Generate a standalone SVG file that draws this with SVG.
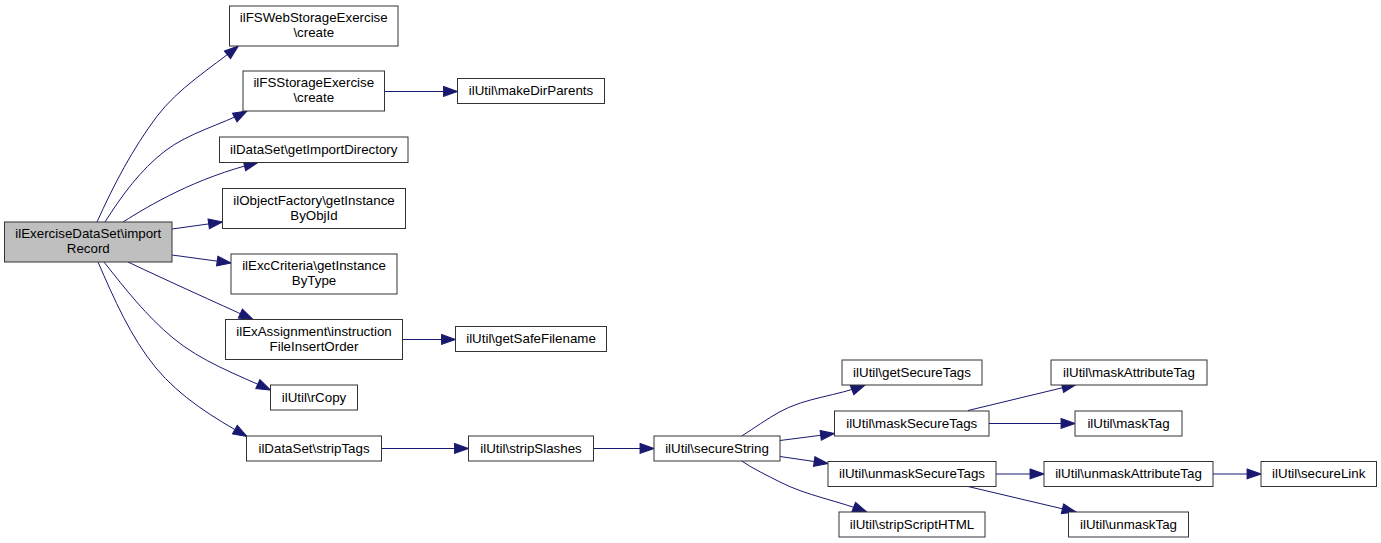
<svg xmlns="http://www.w3.org/2000/svg" width="1381" height="543" viewBox="0 0 1381 543">
<defs>
<style>
.node rect{fill:#ffffff;stroke:#333333;stroke-width:1}
.node.root rect{fill:#bfbfbf}
.node text{font-family:"Liberation Sans",Arial,Helvetica,sans-serif;font-size:13.33px;fill:#000000;text-anchor:middle}
.edges path{fill:none;stroke:#191970;stroke-width:1;marker-end:url(#arrow)}
</style>
<marker id="arrow" markerUnits="userSpaceOnUse" markerWidth="16" markerHeight="12" viewBox="-1 -1 15.3 11.3" refX="13.3" refY="4.67" orient="auto">
<path d="M0,0 L13.3,4.67 L0,9.33 z" fill="#191970" stroke="#191970" stroke-width="1"/>
</marker>
</defs>
<rect x="0" y="0" width="1381" height="543" fill="#ffffff"/>
<g class="edges" id="edges">
<path d="M97,222 C113.4,185.5 132.6,148.7 156.7,116.7 C178.4,87.9 210.2,68.7 238.3,46"/>
<path d="M105,222 C121.6,195.8 140.4,169.9 165,151 C188.8,132.7 220.5,125.1 247,111"/>
<path d="M123,222 C150,205 195,178 258,162.5"/>
<path d="M172,229 L222.5,222"/>
<path d="M172,255 L231,263"/>
<path d="M128,262 C170,282 215,302 253,319.5"/>
<path d="M104,262 C125,288.7 146.8,316.3 173,338 C201.5,361.6 236.5,374.3 270.5,390"/>
<path d="M98,262 C114,298.7 130.6,337.2 156,368 C180.2,397.3 214.1,418 247,436.5"/>
<path d="M384.5,91.5 L457.5,91.5"/>
<path d="M402.5,339.5 L455.5,339.5"/>
<path d="M381.5,448.5 L468.5,448.5"/>
<path d="M593.5,448.5 L654,448.5"/>
<path d="M741.7,436 C754.4,428 766.8,418.9 780,411.7 C806.3,397.3 837.1,396.1 865,385"/>
<path d="M780,440.5 L834.5,433.5"/>
<path d="M780,456.5 L828,463.5"/>
<path d="M741.7,461 C753.6,469.1 767.5,475.6 780,482 C806.7,495.7 838.8,500.9 866.7,512"/>
<path d="M968,410.5 L1076,384.5"/>
<path d="M989,423.5 L1075,423.5"/>
<path d="M996,474 L1044,474"/>
<path d="M968,486.5 L1076,512"/>
<path d="M1213,474 L1261,474"/>
</g>
<g class="node root" id="n_importRecord"><rect x="4.5" y="222" width="167.5" height="40"/><text x="88.25" y="238">ilExerciseDataSet\import</text><text x="88.25" y="253">Record</text></g>
<g class="node" id="n_fswebcreate"><rect x="229.5" y="6" width="168.5" height="40"/><text x="313.75" y="22">ilFSWebStorageExercise</text><text x="313.75" y="37">\create</text></g>
<g class="node" id="n_fscreate"><rect x="243" y="71" width="141.5" height="40"/><text x="313.75" y="87">ilFSStorageExercise</text><text x="313.75" y="102">\create</text></g>
<g class="node" id="n_makeDirParents"><rect x="457.5" y="78.5" width="147" height="25"/><text x="531" y="95">ilUtil\makeDirParents</text></g>
<g class="node" id="n_getImportDirectory"><rect x="219.5" y="137" width="188.5" height="25.5"/><text x="313.75" y="153.5">ilDataSet\getImportDirectory</text></g>
<g class="node" id="n_getInstanceByObjId"><rect x="222.5" y="188.5" width="183" height="40"/><text x="314" y="204.5">ilObjectFactory\getInstance</text><text x="314" y="219.5">ByObjId</text></g>
<g class="node" id="n_getInstanceByType"><rect x="231" y="254" width="166" height="40"/><text x="314" y="270">ilExcCriteria\getInstance</text><text x="314" y="285">ByType</text></g>
<g class="node" id="n_instructionFileInsertOrder"><rect x="225.5" y="319.5" width="177" height="40"/><text x="314" y="335.5">ilExAssignment\instruction</text><text x="314" y="350.5">FileInsertOrder</text></g>
<g class="node" id="n_getSafeFilename"><rect x="455.5" y="326.5" width="151" height="25"/><text x="531" y="343">ilUtil\getSafeFilename</text></g>
<g class="node" id="n_rCopy"><rect x="270.5" y="385" width="87" height="25"/><text x="314" y="401.5">ilUtil\rCopy</text></g>
<g class="node" id="n_stripTags"><rect x="246.5" y="436" width="135" height="25"/><text x="314" y="452.5">ilDataSet\stripTags</text></g>
<g class="node" id="n_stripSlashes"><rect x="468.5" y="436" width="125" height="25"/><text x="531" y="452.5">ilUtil\stripSlashes</text></g>
<g class="node" id="n_secureString"><rect x="654" y="436" width="126" height="25"/><text x="717" y="452.5">ilUtil\secureString</text></g>
<g class="node" id="n_getSecureTags"><rect x="842" y="360" width="140" height="25"/><text x="912" y="376.5">ilUtil\getSecureTags</text></g>
<g class="node" id="n_maskSecureTags"><rect x="834.5" y="411" width="154.5" height="25"/><text x="911.75" y="427.5">ilUtil\maskSecureTags</text></g>
<g class="node" id="n_unmaskSecureTags"><rect x="828" y="461.5" width="168" height="25"/><text x="912" y="478">ilUtil\unmaskSecureTags</text></g>
<g class="node" id="n_stripScriptHTML"><rect x="839" y="512" width="146" height="25"/><text x="912" y="528.5">ilUtil\stripScriptHTML</text></g>
<g class="node" id="n_maskAttributeTag"><rect x="1051" y="360" width="156" height="25"/><text x="1129" y="376.5">ilUtil\maskAttributeTag</text></g>
<g class="node" id="n_maskTag"><rect x="1075" y="411" width="107" height="25"/><text x="1128.5" y="427.5">ilUtil\maskTag</text></g>
<g class="node" id="n_unmaskAttributeTag"><rect x="1044" y="461.5" width="169" height="25"/><text x="1128.5" y="478">ilUtil\unmaskAttributeTag</text></g>
<g class="node" id="n_unmaskTag"><rect x="1068.5" y="512" width="120" height="25"/><text x="1128.5" y="528.5">ilUtil\unmaskTag</text></g>
<g class="node" id="n_secureLink"><rect x="1261" y="461.5" width="115.5" height="25"/><text x="1318.75" y="478">ilUtil\secureLink</text></g>
</svg>
